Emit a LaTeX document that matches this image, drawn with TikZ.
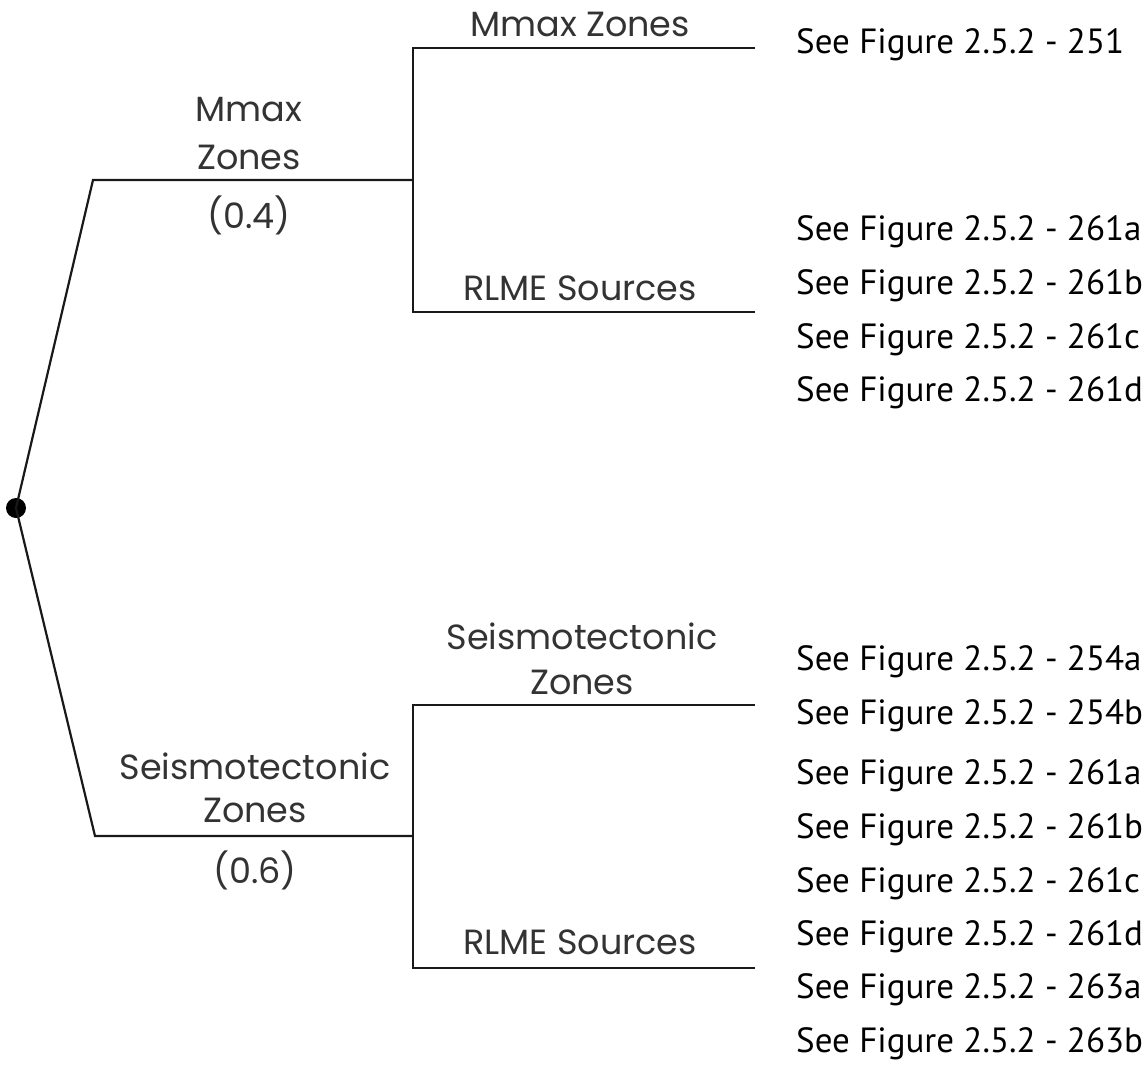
\documentclass[tikz,border=0pt]{standalone}
\usepackage{fontspec}
\newfontfamily\treefont{Poppins}
\newfontfamily\figfont{PT Sans}
\begin{document}
\begin{tikzpicture}[x=1pt,y=-1pt,
  branch/.style={line width=2.2pt,black!90},
  tlabel/.style={font=\treefont\fontsize{35}{40}\selectfont,text=black!80,inner sep=0pt,anchor=center},
  flabel/.style={font=\figfont\fontsize{35}{42}\selectfont,text=black,inner sep=0pt,anchor=west},
  rootdot/.style={circle,fill=black,inner sep=0pt,minimum size=20pt}]
\useasboundingbox (0,0) rectangle (1147,1078);
% nodes / coordinates
\node[rootdot] (root) at (16,508) {};
\coordinate (u1) at (93,180);
\coordinate (u2) at (413,180);
\coordinate (ut) at (413,48);
\coordinate (ub) at (413,312);
\coordinate (ute) at (755,48);
\coordinate (ube) at (755,312);
\coordinate (l1) at (95,836);
\coordinate (l2) at (413,836);
\coordinate (lt) at (413,705);
\coordinate (lb) at (413,968);
\coordinate (lte) at (755,705);
\coordinate (lbe) at (755,968);
% connectors
\draw[branch] (root.center) -- (u1) -- (u2);
\draw[branch] (ute) -- (ut) -- (ub) -- (ube);
\draw[branch] (root.center) -- (l1) -- (l2);
\draw[branch] (lte) -- (lt) -- (lb) -- (lbe);
% tree labels
\node[tlabel] (mmax1) at (249,110) {Mmax};
\node[tlabel] (mmax2) at (249,157) {Zones};
\node[tlabel] (p04) at (249,215) {(0.4)};
\node[tlabel] (mz) at (580,24) {Mmax Zones};
\node[tlabel] (rl1) at (580,288) {RLME Sources};
\node[tlabel] (sz1) at (582,636) {Seismotectonic};
\node[tlabel] (sz2) at (582,682) {Zones};
\node[tlabel] (rl2) at (580,942) {RLME Sources};
\node[tlabel] (st1) at (255,766) {Seismotectonic};
\node[tlabel] (st2) at (255,810) {Zones};
\node[tlabel] (p06) at (255,870) {(0.6)};
% figure references
\node[flabel] (f251) at (796,45) {See Figure 2.5.2 - 251};
\node[flabel] (fa1) at (796,232) {See Figure 2.5.2 - 261a};
\node[flabel] (fb1) at (796,286) {See Figure 2.5.2 - 261b};
\node[flabel] (fc1) at (796,340) {See Figure 2.5.2 - 261c};
\node[flabel] (fd1) at (796,393) {See Figure 2.5.2 - 261d};
\node[flabel] (f254a) at (796,662) {See Figure 2.5.2 - 254a};
\node[flabel] (f254b) at (796,716) {See Figure 2.5.2 - 254b};
\node[flabel] (fa2) at (796,776) {See Figure 2.5.2 - 261a};
\node[flabel] (fb2) at (796,830) {See Figure 2.5.2 - 261b};
\node[flabel] (fc2) at (796,884) {See Figure 2.5.2 - 261c};
\node[flabel] (fd2) at (796,937) {See Figure 2.5.2 - 261d};
\node[flabel] (f263a) at (796,990) {See Figure 2.5.2 - 263a};
\node[flabel] (f263b) at (796,1044) {See Figure 2.5.2 - 263b};
\end{tikzpicture}
\end{document}
